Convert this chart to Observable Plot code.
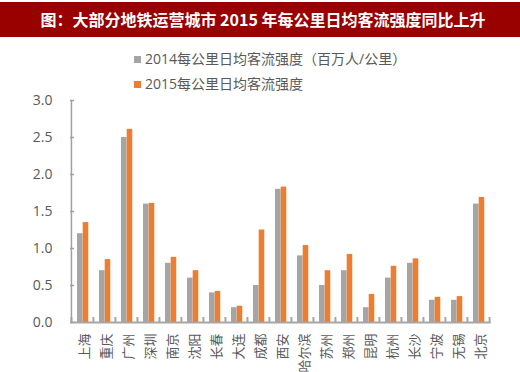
<!DOCTYPE html>
<html>
<head>
<meta charset="utf-8">
<script src="https://cdn.jsdelivr.net/npm/d3@7"></script>
<script src="https://cdn.jsdelivr.net/npm/@observablehq/plot@0.6"></script>
<style>
  html, body { margin: 0; padding: 0; background: #fff; }
  #wrap { position: relative; width: 520px; height: 372px; overflow: hidden; background: #fff; }
  #title { position: absolute; left: 0; top: 2px; width: 520px; height: 35px; background: #990000; color: #fff;
    font-family: 'Noto Sans CJK SC', sans-serif; font-weight: bold; font-size: 16px; line-height: 35px; text-align: center; padding-left: 6px; box-sizing: border-box; }
  .leg { position: absolute; left: 134px; font-family: 'Open Sans', 'Noto Sans CJK SC', sans-serif; font-size: 14px; color: #595959; line-height: 16px; white-space: nowrap; }
  .sw { display: inline-block; width: 7px; height: 7px; margin-right: 4px; vertical-align: 1px; }
  #chart { position: absolute; left: 0; top: 90px; }
</style>
</head>
<body>
<div id="wrap">
  <div id="title">图：大部分地铁运营城市 2015 年每公里日均客流强度同比上升</div>
  <div class="leg" id="leg1" style="top:51px;"></div>
  <div class="leg" id="leg2" style="top:76px;"></div>
  <div id="chart"></div>
</div>
<script>
const cities = ["上海","重庆","广州","深圳","南京","沈阳","长春","大连","成都","西安","哈尔滨","苏州","郑州","昆明","杭州","长沙","宁波","无锡","北京"];
const v2014 = [1.2,0.7,2.5,1.6,0.8,0.6,0.4,0.2,0.5,1.8,0.9,0.5,0.7,0.2,0.6,0.8,0.3,0.3,1.6];
const v2015 = [1.35,0.85,2.61,1.61,0.88,0.70,0.42,0.22,1.25,1.83,1.04,0.70,0.92,0.38,0.76,0.86,0.34,0.35,1.69];
const seriesNames = ["2014每公里日均客流强度（百万人/公里）","2015每公里日均客流强度"];
const seriesColors = ["#a5a5a5","#ed7d31"];
const yTicks = [0,0.5,1,1.5,2,2.5,3];

document.getElementById("leg1").innerHTML = `<span class="sw" style="background:${seriesColors[0]}"></span>${seriesNames[0]}`;
document.getElementById("leg2").innerHTML = `<span class="sw" style="background:${seriesColors[1]}"></span>${seriesNames[1]}`;

const W = 520, H = 282, mT = 10, mB = 50, mL = 70, mR = 29.3;
const fw = W - mL - mR, fh = H - mT - mB;
const bw = fw / cities.length;

const d14 = cities.map((c, i) => ({city: c, v: v2014[i]}));
const d15 = cities.map((c, i) => ({city: c, v: v2015[i]}));

const chart = Plot.plot({
  width: W, height: H,
  marginTop: mT, marginBottom: mB, marginLeft: mL, marginRight: mR,
  style: {fontFamily: "'Open Sans', 'Noto Sans CJK SC', sans-serif", fontSize: "14px", color: "#595959", background: "transparent"},
  x: {domain: cities, padding: 0, label: null},
  y: {domain: [0, 3], label: null},
  marks: [
    Plot.barY(d14, {x: "city", y: "v", fill: seriesColors[0], insetLeft: 6, insetRight: bw - 11.7}),
    Plot.barY(d15, {x: "city", y: "v", fill: seriesColors[1], insetLeft: 11.7, insetRight: bw - 17.4}),
    Plot.ruleX(cities, {x: d => d, dx: -bw / 2, insetTop: fh - 5, stroke: "#a6a6a6", strokeWidth: 2}),
    Plot.ruleX([cities[cities.length - 1]], {x: d => d, dx: bw / 2, insetTop: fh - 5, stroke: "#a6a6a6", strokeWidth: 2}),
    Plot.ruleX([cities[0]], {x: d => d, dx: -bw / 2, stroke: "#a0a0a0", strokeWidth: 1.5}),
    Plot.ruleY(yTicks, {y: d => d, insetRight: fw - 4, stroke: "#a0a0a0", strokeWidth: 1.5}),
    Plot.ruleY([0], {stroke: "#a6a6a6", strokeWidth: 2}),
    Plot.axisY({ticks: yTicks, tickFormat: d3.format(".1f"), tickSize: 0, tickPadding: 18, fontSize: 14, fill: "#595959", label: null}),
    Plot.axisX({tickRotate: -90, tickSize: 0, tickPadding: 11, fontSize: 13, fill: "#595959", dx: 2, label: null})
  ]
});
document.getElementById("chart").appendChild(chart);
</script>
</body>
</html>
